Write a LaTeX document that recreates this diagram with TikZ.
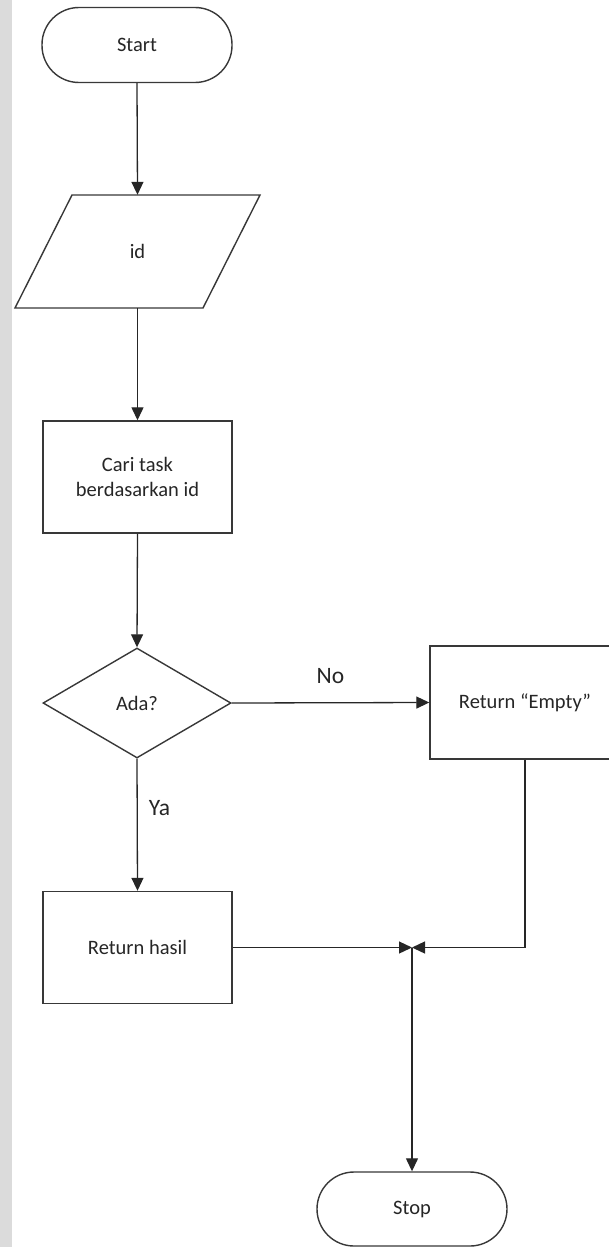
\documentclass[tikz,border=0pt]{standalone}
\usepackage{fontspec}
\setmainfont{Carlito}
\usetikzlibrary{shapes.geometric,arrows.meta}
\begin{document}
\begin{tikzpicture}[x=1pt,y=-1pt,
  >={Triangle[length=13pt,width=12pt]},
  boxline/.style={draw=black!78, line width=1.4pt},
  box/.style={boxline, fill=white, minimum width=189pt, minimum height=112pt,
    inner sep=0pt, align=center, text=black!85, font=\fontsize{20.5}{25}\selectfont},
  term/.style={box, rounded corners=37pt, minimum width=190pt, minimum height=75pt},
  decision/.style={box, diamond, aspect=1.71, minimum width=188pt, minimum height=110pt},
  ghost/.style={minimum width=189pt, minimum height=113pt, inner sep=0pt,
    text=black!85, font=\fontsize{20.5}{25}\selectfont},
  conn/.style={draw=black!85, line width=1.3pt},
  lbl/.style={inner sep=0pt, text=black!85, font=\fontsize{23.5}{28}\selectfont}]
\useasboundingbox (0,0) rectangle (608,1247);
\fill[gray!28] (0,0) rectangle (12,1247);

% shapes
\node[term] (start) at (137,45) {Start};
\draw[boxline, fill=white] (72,195) -- (260,195) -- (203,308) -- (15,308) -- cycle;
\node[ghost] (idn) at (137.5,251.5) {id};
\node[box] (cari) at (137.5,477) {Cari task\\berdasarkan id};
\node[decision] (ada) at (137,703) {Ada?};
\node[box, minimum width=190pt, minimum height=113pt] (empty) at (525,702.5) {Return “Empty”};
\node[box] (hasil) at (137.5,947.5) {Return hasil};
\node[term, minimum height=74pt] (stop) at (412,1209) {Stop};
\coordinate (j) at (412,947.5);

% connectors
\draw[conn,->] (start.south) -- (idn.north);
\draw[conn,->] (idn.south) -- (cari.north);
\draw[conn,->] (cari.south) -- (ada.north);
\draw[conn,->] (ada.east) -- node[lbl, midway, yshift=27pt] {No} (empty.west);
\draw[conn,->] (ada.south) -- node[lbl, pos=0.37, anchor=west, xshift=11pt] {Ya} (hasil.north);
\draw[conn,->] (hasil.east) -- (j);
\draw[conn,->] (empty.south) |- (j);
\draw[conn,->] (j) -- (stop.north);
\end{tikzpicture}
\end{document}
